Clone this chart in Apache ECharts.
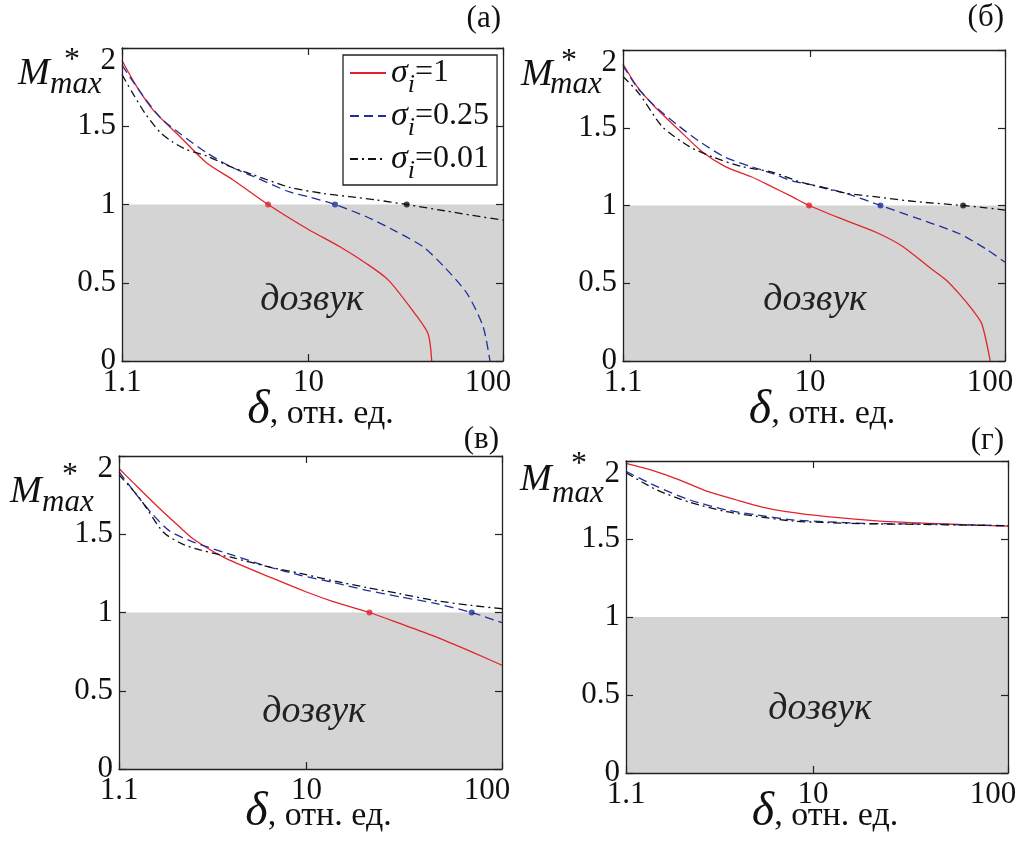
<!DOCTYPE html>
<html>
<head>
<meta charset="utf-8">
<script src="https://cdn.jsdelivr.net/npm/echarts@6/dist/echarts.min.js"></script>
<style>
  html, body { margin: 0; padding: 0; background: #fff; }
  #chart { width: 1024px; height: 845px; }
</style>
</head>
<body>
<div id="chart"></div>
<script>
// ---- data: M*max versus delta for three sigma_i values, four cases ----
const sigmaValues = ['1', '0.25', '0.01'];
const panelLetters = ['(а)', '(б)', '(в)', '(г)'];
const xTickLabels = ['1.1', '10', '100'];

// (а)
const aRedDelta   = [1.1, 1.3, 1.6, 2.2, 3.0, 4.1, 6.2, 10, 14.5, 20, 25.6, 33, 41, 43];
const aRedM       = [1.92, 1.76, 1.60, 1.43, 1.265, 1.157, 1.0, 0.84, 0.73, 0.62, 0.52, 0.35, 0.18, 0.0];
const aBlueDelta  = [1.1, 1.4, 1.75, 2.2, 3.0, 4.0, 5.2, 8, 10, 13.7, 20, 28, 38.8, 50, 65.4, 79, 85.7];
const aBlueM      = [1.89, 1.70, 1.55, 1.45, 1.33, 1.24, 1.18, 1.08, 1.05, 1.0, 0.92, 0.83, 0.73, 0.60, 0.43, 0.22, 0.0];
const aBlackDelta = [1.1, 1.25, 1.45, 1.73, 2.0, 2.37, 3.0, 4.0, 5.2, 8, 12, 16.3, 22, 32, 50, 70, 100];
const aBlackM     = [1.83, 1.71, 1.58, 1.46, 1.40, 1.35, 1.31, 1.24, 1.19, 1.11, 1.07, 1.05, 1.03, 1.0, 0.96, 0.93, 0.90];
const aCrossDelta = [6.2, 13.7, 32];

// (б)
const bRedDelta   = [1.1, 1.3, 1.6, 2.13, 2.8, 3.68, 5, 6.4, 8, 9.9, 15, 22.5, 30, 40.6, 50, 58, 68, 76, 84];
const bRedM       = [1.91, 1.764, 1.635, 1.485, 1.346, 1.25, 1.185, 1.12, 1.06, 1.0, 0.907, 0.82, 0.735, 0.606, 0.52, 0.435, 0.33, 0.24, 0.0];
const bBlueDelta  = [1.1, 1.3, 1.6, 2.13, 2.8, 3.68, 5, 6.4, 8, 11.5, 16, 23, 35, 58, 80, 100];
const bBlueM      = [1.90, 1.76, 1.64, 1.51, 1.40, 1.31, 1.25, 1.207, 1.16, 1.12, 1.07, 1.0, 0.92, 0.82, 0.72, 0.635];
const bBlackDelta = [1.1, 1.33, 1.75, 2.4, 3.2, 4.5, 6.4, 9, 15.2, 22, 35, 61, 80, 100];
const bBlackM     = [1.83, 1.72, 1.507, 1.38, 1.31, 1.25, 1.215, 1.15, 1.08, 1.055, 1.025, 1.0, 0.985, 0.97];
const bCrossDelta = [9.9, 23, 61];

// (в)
const cRedDelta   = [1.1, 1.3, 1.78, 2.2, 2.64, 3.9, 6.8, 10, 13.7, 21, 30, 44.6, 70, 100];
const cRedM       = [1.92, 1.83, 1.663, 1.557, 1.47, 1.344, 1.216, 1.131, 1.07, 1.0, 0.93, 0.85, 0.748, 0.663];
const cBlueDelta  = [1.1, 1.3, 1.6, 2.0, 2.64, 4.2, 6.5, 9.3, 14, 20.3, 30, 45, 70, 100];
const cBlueM      = [1.90, 1.78, 1.64, 1.52, 1.45, 1.366, 1.29, 1.238, 1.19, 1.142, 1.10, 1.06, 1.0, 0.935];
const cBlackDelta = [1.1, 1.41, 1.85, 2.3, 2.85, 4.2, 6.5, 9.3, 14, 20.3, 30, 44.6, 70, 100];
const cBlackM     = [1.88, 1.727, 1.514, 1.44, 1.40, 1.35, 1.29, 1.25, 1.20, 1.16, 1.12, 1.078, 1.045, 1.024];
const cCrossDelta = [21, 70];

// (г)
const dRedDelta   = [1.1, 1.5, 2.08, 2.8, 4.07, 5.5, 7.3, 11.8, 22, 48.5, 100];
const dRedM       = [1.985, 1.94, 1.878, 1.81, 1.75, 1.705, 1.675, 1.643, 1.615, 1.596, 1.582];
const dBlueDelta  = [1.1, 1.58, 2.34, 3.61, 5.15, 7.9, 12, 18, 40, 100];
const dBlueM      = [1.933, 1.837, 1.75, 1.686, 1.654, 1.622, 1.61, 1.60, 1.595, 1.585];
const dBlackDelta = [1.1, 1.58, 2.34, 3.61, 5.15, 7.9, 12, 18, 40, 100];
const dBlackM     = [1.925, 1.815, 1.735, 1.675, 1.645, 1.615, 1.605, 1.598, 1.593, 1.585];
const dCrossDelta = [];

// ---- presentation ----
const SERIF = '"Liberation Serif", "DejaVu Serif", serif';
const COLORS = ['#e0242c', '#1f2f9c', '#111111'];
const DASHES = ['solid', [9, 5], [8, 4, 2, 4]];

const grids = [
  { left: 122, top: 48,  width: 381, height: 313 },
  { left: 623, top: 50,  width: 382, height: 311 },
  { left: 119, top: 456, width: 383, height: 313 },
  { left: 626, top: 461, width: 382, height: 312 }
];
const xNameGaps = [25, 25, 19, 15];

const panels = [
  { curves: [[aRedDelta, aRedM], [aBlueDelta, aBlueM], [aBlackDelta, aBlackM]], cross: aCrossDelta },
  { curves: [[bRedDelta, bRedM], [bBlueDelta, bBlueM], [bBlackDelta, bBlackM]], cross: bCrossDelta },
  { curves: [[cRedDelta, cRedM], [cBlueDelta, cBlueM], [cBlackDelta, cBlackM]], cross: cCrossDelta },
  { curves: [[dRedDelta, dRedM], [dBlueDelta, dBlueM], [dBlackDelta, dBlackM]], cross: dCrossDelta }
];

// label placements around each panel (text centres)
const letterPos = [[501, 19], [1004, 18], [499, 440], [1004, 441]];
const mLabelPos = [
  { M: [18, 74],  star: [64, 61],  sub: [50, 85] },
  { M: [521, 75], star: [561, 62], sub: [550, 85] },
  { M: [10, 492], star: [62, 476], sub: [42, 503] },
  { M: [520, 480], star: [571, 465], sub: [552, 494] }
];
const zoneLabelPos = [[312, 300], [815, 300], [314, 712], [820, 709]];

const seriesNames = sigmaValues.map(v => 'σi=' + v);
const AXIS_COLOR = '#222';

const xAxes = [], yAxes = [], series = [];
grids.forEach((g, i) => {
  const common = {
    type: 'log', logBase: 10, min: 1.1, max: 100, gridIndex: i, z: 10,
    axisLine: { show: true, onZero: false, lineStyle: { color: AXIS_COLOR, width: 1.3 } },
    axisTick: { show: true, inside: true, length: 7, lineStyle: { color: AXIS_COLOR, width: 1.2 } },
    splitLine: { show: false }, minorTick: { show: false }
  };
  xAxes.push(Object.assign({}, common, {
    position: 'bottom',
    axisLabel: {
      show: true, margin: 6, color: '#111', fontFamily: SERIF, fontSize: 31,
      formatter: v => {
        if (v < 2) return xTickLabels[0];
        if (v < 50) return xTickLabels[1];
        return '{r|' + xTickLabels[2] + '}';
      },
      rich: { r: { fontFamily: SERIF, fontSize: 31, color: '#111', padding: [0, 30, 0, 0] } }
    },
    name: '{d|δ}{t|, отн. ед.}', nameLocation: 'middle', nameGap: xNameGaps[i],
    nameMoveOverlap: false,
    nameTextStyle: {
      rich: {
        d: { fontFamily: SERIF, fontStyle: 'italic', fontSize: 48, color: '#111', padding: [0, 0, 0, 16] },
        t: { fontFamily: SERIF, fontSize: 34, color: '#111', padding: [8, 0, 0, 0] }
      }
    }
  }));
  xAxes.push(Object.assign({}, common, { position: 'top', axisLabel: { show: false } }));

  const ycommon = {
    type: 'value', min: 0, max: 2, interval: 0.5, gridIndex: i, z: 10,
    axisLine: { show: true, onZero: false, lineStyle: { color: AXIS_COLOR, width: 1.3 } },
    axisTick: { show: true, inside: true, length: 7, lineStyle: { color: AXIS_COLOR, width: 1.2 } },
    splitLine: { show: false }
  };
  yAxes.push(Object.assign({}, ycommon, {
    position: 'left',
    axisLabel: {
      show: true, margin: 6, color: '#111', fontFamily: SERIF, fontSize: 31,
      formatter: v => (v === 2 ? '{t|2}' : String(v)),
      rich: { t: { fontFamily: SERIF, fontSize: 31, color: '#111', padding: [26, 0, 0, 0] } }
    }
  }));
  yAxes.push(Object.assign({}, ycommon, { position: 'right', axisLabel: { show: false } }));

  // shaded zone M* < 1
  series.push({
    type: 'line', xAxisIndex: 2 * i, yAxisIndex: 2 * i, data: [], silent: true, z: 1,
    markArea: {
      silent: true, itemStyle: { color: '#d4d4d4' },
      data: [[{ yAxis: 0 }, { yAxis: 1 }]]
    }
  });

  panels[i].curves.forEach((c, k) => {
    series.push({
      type: 'line', name: seriesNames[k],
      xAxisIndex: 2 * i, yAxisIndex: 2 * i,
      data: c[0].map((x, j) => [x, c[1][j]]),
      symbol: 'none', smooth: 0.25, silent: true, z: 3,
      lineStyle: { color: COLORS[k], width: 1.3, type: DASHES[k] },
      itemStyle: { color: COLORS[k] }
    });
  });

  panels[i].cross.forEach((x, k) => {
    series.push({
      type: 'scatter', xAxisIndex: 2 * i, yAxisIndex: 2 * i,
      data: [[x, 1]], symbolSize: 6, silent: true, z: 4,
      itemStyle: { color: COLORS[k] }
    });
  });
});

const graphics = [];
grids.forEach((g, i) => {
  graphics.push({
    type: 'text', x: letterPos[i][0], y: letterPos[i][1], z: 30,
    style: { text: panelLetters[i], font: '31px ' + SERIF, fill: '#111', align: 'right', verticalAlign: 'middle' }
  });
  const p = mLabelPos[i];
  graphics.push({
    type: 'text', x: p.M[0], y: p.M[1], z: 30,
    style: { text: 'M', font: 'italic 38px ' + SERIF, fill: '#111', align: 'left', verticalAlign: 'middle' }
  });
  graphics.push({
    type: 'text', x: p.star[0], y: p.star[1], z: 30,
    style: { text: '*', font: '32px ' + SERIF, fill: '#111', align: 'left', verticalAlign: 'middle' }
  });
  graphics.push({
    type: 'text', x: p.sub[0], y: p.sub[1], z: 30,
    style: { text: 'max', font: 'italic 31px ' + SERIF, fill: '#111', align: 'left', verticalAlign: 'middle' }
  });
  graphics.push({
    type: 'text', x: zoneLabelPos[i][0], y: zoneLabelPos[i][1], z: 30,
    style: { text: 'дозвук', font: 'italic 38px ' + SERIF, fill: '#222', align: 'center', verticalAlign: 'middle' }
  });
});

const chart = echarts.init(document.getElementById('chart'), null, { renderer: 'canvas' });
chart.setOption({
  animation: false,
  backgroundColor: '#fff',
  grid: grids.map(g => Object.assign({ containLabel: false, show: false }, g)),
  xAxis: xAxes,
  yAxis: yAxes,
  legend: {
    show: true, data: seriesNames, selectedMode: false,
    left: 343, top: 55, orient: 'vertical',
    itemWidth: 36, itemHeight: 14, itemGap: 1,
    padding: [1, 8, 1, 6],
    borderColor: AXIS_COLOR, borderWidth: 1.3, backgroundColor: '#fff',
    itemStyle: { opacity: 0 },
    formatter: name => '{s|σ}{i|i}{n|=' + name.slice(3) + '}',
    textStyle: {
      rich: {
        s: { fontFamily: SERIF, fontStyle: 'italic', fontSize: 34, color: '#111' },
        i: { fontFamily: SERIF, fontStyle: 'italic', fontSize: 26, color: '#111', padding: [24, 0, 0, 0] },
        n: { fontFamily: SERIF, fontSize: 32, color: '#111' }
      }
    }
  },
  graphic: graphics,
  series: series
});
</script>
</body>
</html>
